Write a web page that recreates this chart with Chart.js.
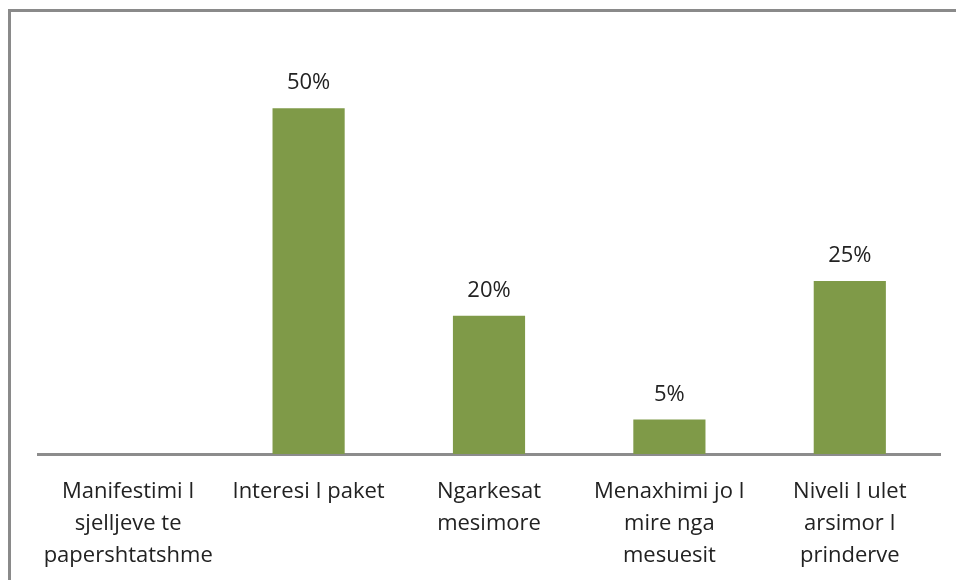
<!DOCTYPE html>
<html>
<head>
<meta charset="utf-8">
<script src="https://cdn.jsdelivr.net/npm/chart.js@4"></script>
<style>
  html, body { margin: 0; padding: 0; background: #fff; }
  #wrap { position: relative; width: 956px; height: 580px; overflow: hidden; }
  #frame {
    position: absolute; left: 8px; top: 9px; width: 1000px; height: 700px;
    border-left: 3px solid #8a8a8a; border-top: 3px solid #8a8a8a;
    pointer-events: none;
  }
  canvas { position: absolute; left: 0; top: 0; }
</style>
</head>
<body>
<div id="wrap">
  <canvas id="causesChart" width="956" height="580"></canvas>
  <div id="frame"></div>
</div>
<script>
const categories = [
  ['Manifestimi I', 'sjelljeve te', 'papershtatshme'],
  ['Interesi I paket'],
  ['Ngarkesat', 'mesimore'],
  ['Menaxhimi jo I', 'mire nga', 'mesuesit'],
  ['Niveli I ulet', 'arsimor I', 'prinderve']
];
const shares = [0, 50, 20, 5, 25];

// percentage above each non-empty bar
const valueLabels = {
  id: 'valueLabels',
  afterDatasetsDraw(chart) {
    const ctx = chart.ctx;
    const meta = chart.getDatasetMeta(0);
    ctx.save();
    ctx.font = '22px "Open Sans"';
    ctx.fillStyle = '#222';
    ctx.textAlign = 'center';
    ctx.textBaseline = 'middle';
    meta.data.forEach(function (bar, i) {
      if (shares[i] > 0) ctx.fillText(shares[i] + '%', bar.x, bar.y - 25);
    });
    ctx.restore();
  }
};

document.addEventListener('DOMContentLoaded', function () {
  const ctx = document.getElementById('causesChart').getContext('2d');
  new Chart(ctx, {
    type: 'bar',
    data: {
      labels: categories,
      datasets: [{
        data: shares,
        backgroundColor: '#7f9a48',
        categoryPercentage: 1,
        barPercentage: 0.4
      }]
    },
    options: {
      responsive: false,
      animation: false,
      layout: { padding: { left: 38, right: 16, top: 39, bottom: -6 } },
      plugins: {
        legend: { display: false },
        tooltip: { enabled: false }
      },
      scales: {
        x: {
          grid: { display: false },
          border: { display: true, color: '#8c8c8c', width: 3 },
          ticks: {
            color: '#222',
            font: { family: 'Open Sans', size: 22, lineHeight: 1.4545 },
            padding: 14,
            maxRotation: 0,
            autoSkip: false
          }
        },
        y: {
          display: false,
          min: 0,
          max: 60
        }
      }
    },
    plugins: [valueLabels]
  });
});
</script>
</body>
</html>
